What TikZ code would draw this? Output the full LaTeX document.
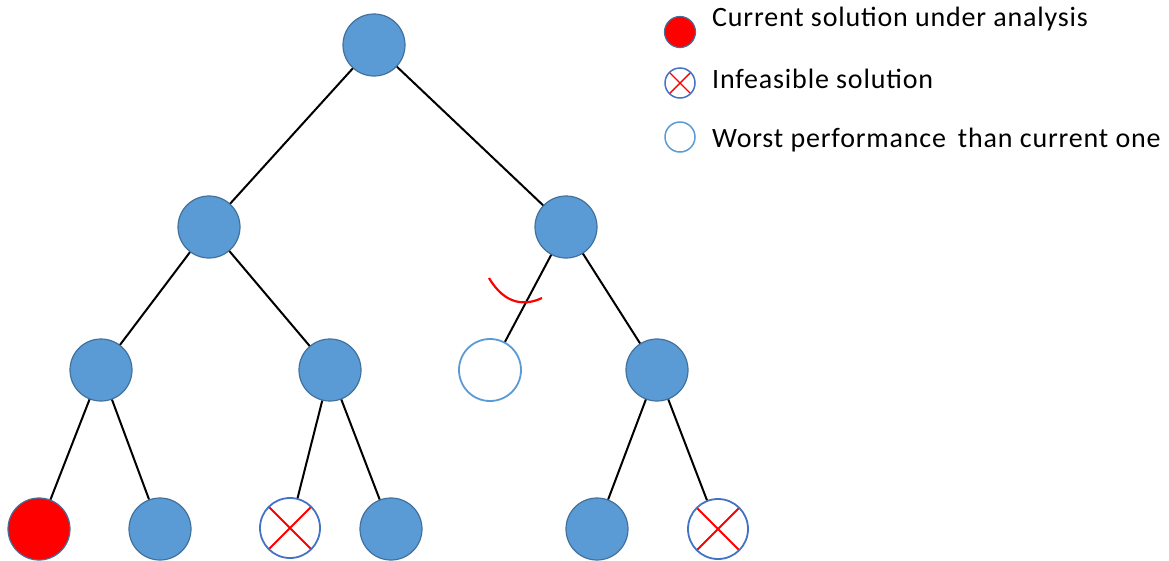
\documentclass[tikz,border=0pt]{standalone}
\usepackage{fontspec}
\setmainfont{Carlito}[LetterSpace=3]
\begin{document}
\begin{tikzpicture}[x=1pt,y=-1pt,
  sol/.style={circle,minimum size=62pt,inner sep=0pt,line width=1.2pt,draw=solborder,fill=solfill},
  cur/.style={sol,fill=red},
  infeas/.style={circle,minimum size=62pt,inner sep=0pt,line width=1.8pt,draw=infborder,fill=white,
    path picture={\draw[red,line width=2pt]
      (path picture bounding box.north west)++(9,9) -- ([shift={(-9,-9)}]path picture bounding box.south east);
      \draw[red,line width=2pt]
      ([shift={(9,-9)}]path picture bounding box.south west) -- ([shift={(-9,9)}]path picture bounding box.north east);}},
  worse/.style={circle,minimum size=62pt,inner sep=0pt,line width=1.8pt,draw=worseborder,fill=white},
  edge/.style={line width=2pt,black},
  legtext/.style={anchor=west,inner sep=0pt,font=\fontsize{28}{32}\selectfont}]
\definecolor{solfill}{HTML}{5B9BD5}
\definecolor{solborder}{HTML}{41719C}
\definecolor{infborder}{HTML}{4472C4}
\definecolor{worseborder}{HTML}{5B9BD5}
\useasboundingbox (0,0) rectangle (1169,560);

% tree nodes
\node[sol] (r) at (374,45) {};
\node[sol] (a) at (209,227) {};
\node[sol] (b) at (566,227) {};
\node[sol] (aa) at (101,370) {};
\node[sol] (ab) at (330,370) {};
\node[worse] (ba) at (490,370) {};
\node[sol] (bb) at (657,370) {};
\node[cur] (aaa) at (39,529) {};
\node[sol] (aab) at (160,529) {};
\node[infeas,minimum size=60pt] (aba) at (290,528) {};
\node[sol] (abb) at (391,529) {};
\node[sol] (bba) at (597,529) {};
\node[infeas,minimum size=60pt] (bbb) at (718,529) {};

% branches
\draw[edge] (r) -- (a);
\draw[edge] (r) -- (b);
\draw[edge] (a) -- (aa);
\draw[edge] (a) -- (ab);
\draw[edge] (b) -- (ba);
\draw[edge] (b) -- (bb);
\draw[edge] (aa) -- (aaa);
\draw[edge] (aa) -- (aab);
\draw[edge] (ab) -- (aba);
\draw[edge] (ab) -- (abb);
\draw[edge] (bb) -- (bba);
\draw[edge] (bb) -- (bbb);

% pruning mark on the cut branch
\coordinate (cutl) at (489,278);
\coordinate (cutr) at (542,298);
\draw[red,line width=2.2pt] (cutl) .. controls (505,305) and (525,306) .. (cutr);

% legend
\node[cur,minimum size=31pt] (k1) at (680,32) {};
\node[infeas,minimum size=30pt,line width=1.5pt,
  path picture={\draw[red,line width=1.4pt]
    ([shift={(4.5,4.5)}]path picture bounding box.north west) -- ([shift={(-4.5,-4.5)}]path picture bounding box.south east);
    \draw[red,line width=1.4pt]
    ([shift={(4.5,-4.5)}]path picture bounding box.south west) -- ([shift={(-4.5,4.5)}]path picture bounding box.north east);}]
  (k2) at (680,83) {};
\node[worse,minimum size=30pt,line width=1.5pt] (k3) at (680,137) {};
\node[legtext] (t1) at (712,19) {Current solution under analysis};
\node[legtext] (t2) at (712,79) {Infeasible solution};
\node[legtext] (t3) at (712,140) {Worst performance\, than current one};
\end{tikzpicture}
\end{document}
